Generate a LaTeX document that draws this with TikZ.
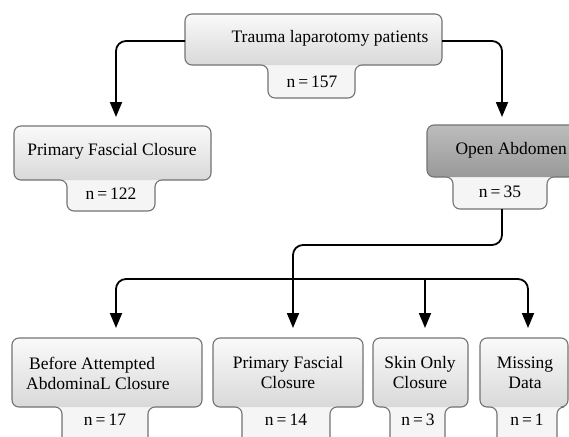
\documentclass[tikz,border=0pt]{standalone}
\usepackage{fontspec}
\setmainfont{Liberation Serif}
\usetikzlibrary{arrows.meta}
\tikzset{
  boxline/.style={draw=black!55,line width=1.1pt},
  tabfill/.style={fill=black!4},
  lightbox/.style={top color=black!2,bottom color=black!15},
  darkbox/.style={top color=black!26,bottom color=black!40},
  txt/.style={font=\fontsize{17.5}{20}\selectfont,inner sep=0pt,align=center},
  conn/.style={line width=1.8pt,rounded corners=10pt},
  arr/.style={conn,-{Triangle[width=12pt,length=15pt]}},
}
\newcommand\flowbox[8]{%
  \path[tabfill,rounded corners=7pt] (#1,#3) -- (#2,#3) -- (#2,#4) -- (#6,#4) -- (#6,#7) -- (#5,#7) -- (#5,#4) -- (#1,#4) -- cycle;
  \path[#8,rounded corners=7pt] (#1,#3) rectangle (#2,#4);
  \draw[boxline,rounded corners=7pt] (#1,#3) -- (#2,#3) -- (#2,#4) -- (#6,#4) -- (#6,#7) -- (#5,#7) -- (#5,#4) -- (#1,#4) -- cycle;
}
\newcommand\nn[1]{n\kern3pt=\kern3pt#1}
\begin{document}
\begin{tikzpicture}[x=1pt,y=-1pt]
\useasboundingbox (0,0) rectangle (569,436);
\clip (0,0) rectangle (569,436);
\fill[white] (0,0) rectangle (569,436);
% boxes
\flowbox{185}{442}{14}{65}{268}{355}{98}{lightbox}
\flowbox{14}{211}{126}{180}{67}{155}{211}{lightbox}
\flowbox{427}{620}{125}{177}{453}{547}{209}{darkbox}
\flowbox{12}{202}{338}{407}{62}{148}{470}{lightbox}
\flowbox{213}{363}{338}{407}{242}{330}{470}{lightbox}
\flowbox{373}{468}{338}{407}{390}{445}{470}{lightbox}
\flowbox{480}{568}{338}{407}{497}{557}{470}{lightbox}
% texts
\node[txt] (top) at (330,38) {Trauma laparotomy patients};
\node[txt] (topn) at (312,82) {\nn{157}};
\node[txt] (pfc) at (112,151) {Primary Fascial Closure};
\node[txt] (pfcn) at (111,194) {\nn{122}};
\node[txt,anchor=east] (oa) at (567,150) {Open Abdomen};
\node[txt] (oan) at (500,192) {\nn{35}};
\node[txt,align=left,anchor=west] (bac) at (26,373) {\hspace*{3pt}Before Attempted\\AbdominaL Closure};
\node[txt] (bacn) at (105,420) {\nn{17}};
\node[txt] (pfc2) at (288,373) {Primary Fascial\\Closure};
\node[txt] (pfc2n) at (286,420) {\nn{14}};
\node[txt] (soc) at (420,373) {Skin Only\\Closure};
\node[txt] (socn) at (418,420) {\nn{3}};
\node[txt] (md) at (525,373) {Missing\\Data};
\node[txt] (mdn) at (527,420) {\nn{1}};
% connector points
\coordinate (topL) at (185,41);
\coordinate (topR) at (442,41);
\coordinate (pfcT) at (116,117);
\coordinate (oaT) at (502,117);
\coordinate (oaB) at (502,209);
\coordinate (c1) at (502,245);
\coordinate (c2) at (293,245);
\coordinate (pfc2T) at (293,328);
\coordinate (bus) at (425,279);
\coordinate (bacT) at (116,328);
\coordinate (socT) at (425,328);
\coordinate (mdT) at (528,328);
% connectors
\draw[arr] (topL) -| (pfcT);
\draw[arr] (topR) -| (oaT);
\draw[arr] (oaB) -- (c1) -- (c2) -- (pfc2T);
\draw[arr] (bus) -| (bacT);
\draw[arr] (bus) -| (mdT);
\draw[arr,rounded corners=0pt] (bus) -- (socT);
\end{tikzpicture}
\end{document}
